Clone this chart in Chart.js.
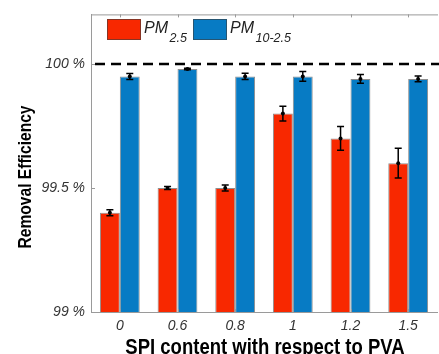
<!DOCTYPE html>
<html>
<head>
<meta charset="utf-8">
<script src="https://cdn.jsdelivr.net/npm/chart.js@4"></script>
<style>
html,body{margin:0;padding:0;overflow:hidden;background:#fff;width:439px;height:354px;}
canvas{display:block;}
</style>
</head>
<body>
<canvas id="c" width="439" height="362"></canvas>
<script>
const categories = ['0', '0.6', '0.8', '1', '1.2', '1.5'];
const pm25 = [99.40, 99.50, 99.50, 99.80, 99.70, 99.60];
const pm25Err = [0.012, 0.006, 0.012, 0.03, 0.048, 0.06];
const pm1025 = [99.95, 99.98, 99.95, 99.95, 99.94, 99.94];
const pm1025Err = [0.012, 0.003, 0.013, 0.02, 0.018, 0.012];
const yTicks = [99, 99.5, 100];
const yMin = 99, yMax = 100.2;
const refLine = 100;
const seriesNames = [['PM', '2.5'], ['PM', '10-2.5']];
const xTitle = 'SPI content with respect to PVA';
const yTitle = 'Removal Efficiency';

const RED = '#f82800';
const BLUE = '#077bc4';
const FONT = "'Liberation Sans', Arial, sans-serif";

const errs = [pm25Err, pm1025Err];

const decor = {
  id: 'decor',
  afterDatasetsDraw(chart) {
    const ctx = chart.ctx;
    const a = chart.chartArea;
    const y = chart.scales.y, x = chart.scales.x;
    ctx.save();
    // top border
    ctx.strokeStyle = '#9a9a9a';
    ctx.lineWidth = 1;
    ctx.beginPath();
    ctx.moveTo(a.left, a.top + 0.5);
    ctx.lineTo(a.right + 1, a.top + 0.5);
    ctx.stroke();
    // inward ticks
    ctx.beginPath();
    x.ticks.forEach((t, i) => {
      const px = Math.round(x.getPixelForTick(i)) + 0.5;
      ctx.moveTo(px, a.top); ctx.lineTo(px, a.top + 3);
      ctx.moveTo(px, a.bottom); ctx.lineTo(px, a.bottom - 3);
    });
    y.ticks.forEach((t, i) => {
      const py = Math.round(y.getPixelForTick(i)) + 0.5;
      ctx.moveTo(a.left, py); ctx.lineTo(a.left + 4, py);
    });
    ctx.stroke();
    // error bars
    ctx.strokeStyle = '#000';
    ctx.fillStyle = '#000';
    chart.data.datasets.forEach((ds, di) => {
      const meta = chart.getDatasetMeta(di);
      meta.data.forEach((bar, j) => {
        const v = ds.data[j], e = errs[di][j];
        const cx = bar.x;
        const yt = y.getPixelForValue(v + e);
        const yb = y.getPixelForValue(v - e);
        const yc = y.getPixelForValue(v);
        ctx.lineWidth = 1.5;
        ctx.beginPath();
        ctx.moveTo(cx, yt); ctx.lineTo(cx, yb);
        ctx.moveTo(cx - 3.5, yt); ctx.lineTo(cx + 3.5, yt);
        ctx.moveTo(cx - 3.5, yb); ctx.lineTo(cx + 3.5, yb);
        ctx.stroke();
        ctx.beginPath();
        ctx.arc(cx, yc, 2, 0, Math.PI * 2);
        ctx.fill();
      });
    });
    // dashed reference line
    const ry = y.getPixelForValue(refLine);
    ctx.strokeStyle = '#000';
    ctx.lineWidth = 2.5;
    ctx.setLineDash([10, 6]);
    ctx.beginPath();
    ctx.moveTo(a.left + 4, ry);
    ctx.lineTo(a.right + 2, ry);
    ctx.stroke();
    ctx.setLineDash([]);

    // legend
    const colors = [RED, BLUE];
    const boxX = [107, 193];
    seriesNames.forEach((n, i) => {
      const bx = boxX[i];
      ctx.fillStyle = colors[i];
      ctx.fillRect(bx, 19, 34, 21);
      ctx.strokeStyle = 'rgba(60,60,60,0.6)';
      ctx.lineWidth = 1;
      ctx.strokeRect(bx + 0.5, 19.5, 33, 20);
      ctx.fillStyle = '#222';
      ctx.textAlign = 'left';
      ctx.textBaseline = 'alphabetic';
      ctx.font = 'italic 16px ' + FONT;
      ctx.fillText(n[0], bx + 37, 32.5);
      const w = ctx.measureText(n[0]).width;
      ctx.font = 'italic 12.5px ' + FONT;
      ctx.fillText(n[1], bx + 37 + w + 1.5, 41.5);
    });

    // axis titles (slightly tall, narrow lettering as in the reference)
    ctx.fillStyle = '#000';
    ctx.textAlign = 'center';
    ctx.textBaseline = 'alphabetic';
    ctx.save();
    ctx.translate(265, 354);
    ctx.scale(1, 1.22);
    ctx.font = 'bold 18.5px ' + FONT;
    ctx.fillText(xTitle, 0, 0);
    ctx.restore();
    ctx.save();
    ctx.translate(31, 177);
    ctx.rotate(-Math.PI / 2);
    ctx.scale(1, 1.22);
    ctx.font = 'bold 15.6px ' + FONT;
    ctx.fillText(yTitle, 0, 0);
    ctx.restore();
    ctx.restore();
  }
};

new Chart(document.getElementById('c'), {
  type: 'bar',
  data: {
    labels: categories,
    datasets: [
      { label: 'PM2.5', data: pm25, backgroundColor: RED, borderColor: 'rgba(50,50,50,0.55)', borderWidth: 1,
        categoryPercentage: 0.69, barPercentage: 1.0, borderSkipped: false },
      { label: 'PM10-2.5', data: pm1025, backgroundColor: BLUE, borderColor: 'rgba(50,50,50,0.55)', borderWidth: 1,
        categoryPercentage: 0.69, barPercentage: 1.0, borderSkipped: false }
    ]
  },
  options: {
    responsive: false,
    animation: false,
    devicePixelRatio: 1,
    layout: { padding: { top: 12, right: 2, left: 0, bottom: 0 } },
    plugins: { legend: { display: false }, tooltip: { enabled: false } },
    scales: {
      x: {
        grid: { display: false, drawTicks: false },
        border: { display: true, color: '#9a9a9a', width: 1 },
        ticks: { color: '#333', padding: 6, font: { family: FONT, size: 14, style: 'italic' } },
        afterFit(s) { s.height = 50; }
      },
      y: {
        min: yMin, max: yMax,
        grid: { display: false, drawTicks: false },
        border: { display: true, color: '#9a9a9a', width: 1 },
        ticks: { color: '#333', padding: 6, font: { family: FONT, size: 14, style: 'italic' },
          callback: v => v + ' %' },
        afterBuildTicks(s) { s.ticks = yTicks.map(v => ({ value: v })); },
        afterFit(s) { s.width = 91; }
      }
    }
  },
  plugins: [decor]
});
</script>
</body>
</html>
